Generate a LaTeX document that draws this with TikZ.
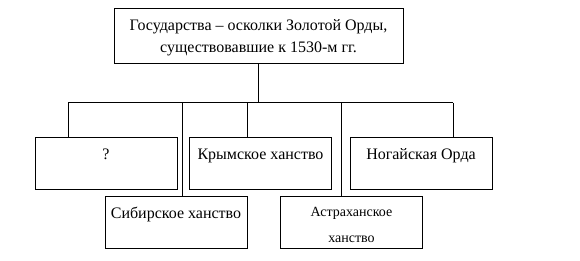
\documentclass[tikz,border=0pt]{standalone}
\usepackage{fontspec}
\setmainfont{Liberation Serif}
\usetikzlibrary{positioning}
\tikzset{
  statebox/.style={
    shape = rectangle,
    draw,
    line width = 1pt,
    inner sep = 0pt,
    minimum width = 142pt,
    minimum height = 52pt
  },
  sname/.style={
    anchor = base,
    inner sep = 0pt,
    align = center,
    font = \fontsize{16}{22}\selectfont
  },
  link/.style={
    line width = 1pt
  },
}

\begin{document}
\begin{tikzpicture}[x=1pt,y=-1pt]
\useasboundingbox (0,0) rectangle (580,261);
\node[statebox, minimum width=289pt, minimum height=55pt] (horde) at (258.5,36.5) {};
\node[sname, anchor=north] (hordetext) at ([yshift=-11pt]horde.north) {Государства – осколки Золотой Орды,\\ существовавшие к 1530-м гг.};
\node[statebox] (quest) at (106,164) {};
\node[statebox] (krym) at (260.5,164) {};
\node[statebox] (nogai) at (421,164) {};
\node[statebox] (sibir) at (176,223) {};
\node[statebox] (astr) at (351.5,223) {};
		  \foreach \n/\t in {quest/?,krym/Крымское ханство,nogai/Ногайская Орда,sibir/Сибирское ханство}{
		    \node[sname] at ([yshift=-22pt]\n.north) {\t}; }
\node[sname, anchor=north, font=\fontsize{14}{26}\selectfont] at ([yshift=-11pt]astr.north) {Астраханское\\ ханство};
\coordinate (busL) at (68,103);
\coordinate (busR) at (453,103);
\draw[link] (busL) -- (busR);
\draw[link] (horde.south) -- (horde.south |- busL);
		  \foreach \x/\n in {68/quest,182/sibir,247/krym,341/astr,453/nogai}{
		    \coordinate (drop-\n) at (\x,103);
		    \draw[link] (drop-\n) -- (drop-\n |- \n.north); }
\end{tikzpicture}
\end{document}
